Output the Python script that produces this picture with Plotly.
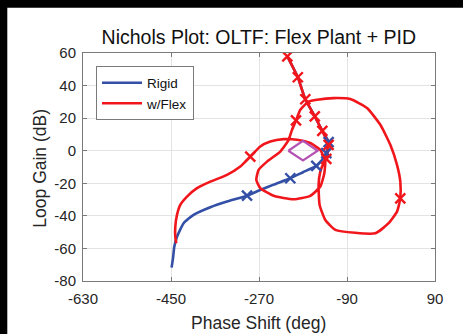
import plotly.graph_objects as go

# Rigid-body open-loop transfer function (phase in deg, gain in dB)
rigid_phase = [-212.1, -190.6, -175.3, -155.9, -140.5, -127.6, -132.3, -140.0, -152.8,
               -180.0, -206.0, -240.0, -267.3, -294.5, -335.5, -369.6, -403.8,
               -424.2, -437.7, -443.3, -445.9, -448.8]
rigid_gain = [57.9, 45.1, 31.6, 21.1, 12.2, 5.3, -1.5, -5.2, -9.3,
              -13.2, -16.9, -20.8, -24.1, -27.6, -31.2, -34.7, -39.4,
              -44.5, -52.8, -58.9, -66.0, -71.8]
rigid_mark_phase = [-127.6, -132.3, -152.8, -206.0, -294.5]
rigid_mark_gain = [5.3, -1.5, -9.3, -16.9, -27.6]

# Plant with flexible modes
flex_phase = [-212.1, -201.0, -190.6, -183.0, -175.3, -165.6, -155.9, -148.2, -140.5,
              -134.0, -127.6, -132.3, -137.8, -144.6,
              -148.1, -146.0, -134.4, -113.9, -32.1, -4.9, 12.3, 19.0, 19.0, 12.3,
              -1.4, -21.8, -49.1, -83.3, -117.4, -151.4, -168.5, -185.5, -194.3,
              -202.5, -209.4, -226.4, -253.6, -270.8, -275.5, -267.3, -240.1,
              -199.2, -165.1, -144.6, -136.4, -134.4, -137.8, -144.6, -165.1,
              -192.3, -219.7, -246.9, -267.3, -287.8, -308.2, -335.5, -369.6,
              -396.8, -417.3, -431.0, -437.7, -441.2, -441.2, -439.2]
flex_gain = [57.9, 51.5, 45.1, 38.3, 31.6, 26.3, 21.1, 16.6, 12.2,
             7.9, 3.6, -5.0, -7.6, -12.8,
             -21.0, -33.3, -42.5, -48.6, -50.7, -44.5, -37.4, -29.3, -18.9, -8.7,
             3.6, 15.9, 26.2, 31.7, 32.3, 31.3, 30.2, 25.1, 18.6,
             12.8, 6.7, -0.5, -6.7, -11.8, -17.9, -23.0, -27.7,
             -29.8, -27.7, -22.0, -13.8, -5.6, -3.6, 0.5, 4.7,
             6.7, 7.1, 5.6, 2.6, -3.6, -9.7, -14.8, -19.0,
             -23.0, -28.2, -33.3, -39.4, -46.6, -52.8, -56.8]
flex_mark_phase = [-212.1, -190.6, -175.3, -155.9, -140.5, -127.6, -132.3, 19.0, -194.3, -287.8]
flex_mark_gain = [57.9, 45.1, 31.6, 21.1, 12.2, 3.6, -5.0, -29.3, 18.6, -3.6]

# Stability margin diamond (30 deg phase, 6 dB gain)
margin_phase = [-210, -180, -150, -180, -210]
margin_gain = [0, 6, 0, -6, 0]

x_ticks = [-630, -450, -270, -90, 90]
y_ticks = [-80, -60, -40, -20, 0, 20, 40, 60]

BLUE = "#3350a6"
RED = "#f0161c"
PURPLE = "#b553b5"
FONT = "Liberation Sans, Arial, sans-serif"

fig = go.Figure()

fig.add_trace(go.Scatter(x=rigid_phase, y=rigid_gain, mode="lines", name="Rigid",
                         line=dict(color=BLUE, width=2.6, shape="spline", smoothing=0.5)))
fig.add_trace(go.Scatter(x=flex_phase, y=flex_gain, mode="lines", name="w/Flex",
                         line=dict(color=RED, width=2.6, shape="spline", smoothing=0.5)))
fig.add_trace(go.Scatter(x=rigid_mark_phase, y=rigid_mark_gain, mode="markers", showlegend=False,
                         marker=dict(symbol="x-thin-open", size=10, color=BLUE,
                                     line=dict(color=BLUE, width=2.4))))
fig.add_trace(go.Scatter(x=flex_mark_phase, y=flex_mark_gain, mode="markers", showlegend=False,
                         marker=dict(symbol="x-thin-open", size=10, color=RED,
                                     line=dict(color=RED, width=2.4))))
fig.add_trace(go.Scatter(x=margin_phase, y=margin_gain, mode="lines", showlegend=False,
                         line=dict(color=PURPLE, width=2.2)))

W, H = 463, 334
L, R, T, B = 82.7, 28.3, 53.3, 53.0
pw, ph = W - L - R, H - T - B

def px_to_paper_x(px):
    return (px - L) / pw

def px_to_paper_y(py):
    return (H - B - py) / ph

axis_common = dict(
    showgrid=True, gridcolor="#e3e3e3", gridwidth=1,
    showline=True, linecolor="#7a7a7a", linewidth=1, mirror="ticks",
    ticks="inside", ticklen=4, tickcolor="#7a7a7a",
    tickfont=dict(family=FONT, size=15, color="#262626"),
    zeroline=False,
)

label_font = dict(family=FONT, size=17.5, color="#262626")

fig.update_layout(
    width=W, height=H,
    margin=dict(l=L, r=R, t=T, b=B),
    paper_bgcolor="black",
    plot_bgcolor="white",
    title=dict(text="Nichols Plot: OLTF: Flex Plant + PID",
               font=dict(family=FONT, size=19.5, color="#111111"),
               x=px_to_paper_x(258.5), xref="paper", xanchor="center",
               y=1 - 37 / H, yanchor="middle"),
    xaxis=dict(range=[-630, 90], tickvals=x_ticks, ticktext=[str(v) for v in x_ticks],
               ticklabelstandoff=4, **axis_common),
    yaxis=dict(range=[-80, 60], tickvals=y_ticks, ticktext=[str(v) for v in y_ticks],
               ticklabelstandoff=3, **axis_common),
    legend=dict(x=px_to_paper_x(95.7), y=px_to_paper_y(66.7), xanchor="left", yanchor="top",
                bgcolor="white", bordercolor="#7a7a7a", borderwidth=1,
                font=dict(family=FONT, size=13.5, color="#111111"),
                itemwidth=40, tracegroupgap=0),
    annotations=[
        dict(text="Phase Shift (deg)", xref="paper", yref="paper",
             x=px_to_paper_x(258.5), y=px_to_paper_y(323), xanchor="center", yanchor="middle",
             showarrow=False, font=label_font),
        dict(text="Loop Gain (dB)", xref="paper", yref="paper", textangle=-90,
             x=px_to_paper_x(39.5), y=px_to_paper_y(168), xanchor="center", yanchor="middle",
             showarrow=False, font=label_font),
    ],
    shapes=[dict(type="rect", xref="paper", yref="paper", layer="below",
                 x0=px_to_paper_x(7), x1=px_to_paper_x(W + 5),
                 y0=px_to_paper_y(H + 5), y1=px_to_paper_y(8),
                 fillcolor="white", line=dict(width=0))],
)

fig.write_html("out.html")
